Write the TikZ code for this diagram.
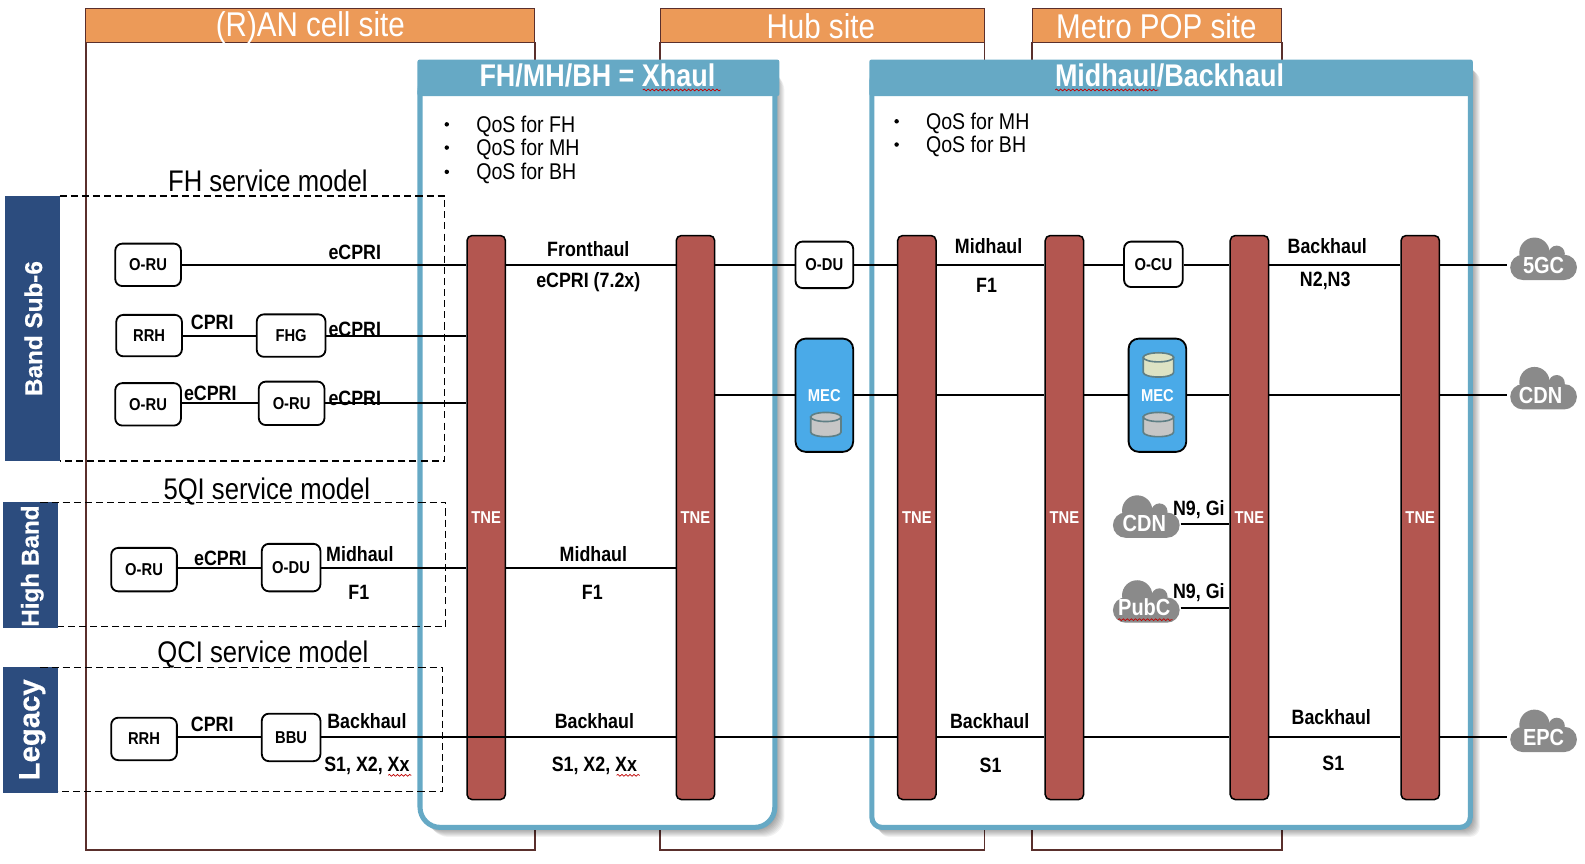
\documentclass[tikz,border=0pt]{standalone}
\usepackage{fontspec}
\setmainfont{Liberation Sans}
\newfontfamily\cnd[FakeStretch=0.86]{Liberation Sans}
\newfontfamily\hvy[FakeBold=.6]{Liberation Sans Bold}
\usetikzlibrary{decorations.pathmorphing}
\definecolor{frm}{HTML}{5A2F2C}
\definecolor{org}{HTML}{EC9A58}
\definecolor{sky}{HTML}{66A9C5}
\definecolor{navy}{HTML}{2C4C7E}
\definecolor{tne}{HTML}{B35650}
\definecolor{mecb}{HTML}{4AAAE8}
\definecolor{cld}{HTML}{8A8A8A}
\definecolor{cyledge}{HTML}{5F7F85}
\definecolor{cylg}{HTML}{C6C6C6}
\definecolor{cylo}{HTML}{DDE3C4}
\newcommand{\fs}[1]{\fontsize{#1}{#1}\selectfont}
\newcommand{\cloudat}[2]{%
  \fill[cld] (#1-9,#2-6) circle[radius=15];
  \fill[cld] (#1+13,#2-5) circle[radius=8];
  \fill[cld,rounded corners=12.5pt] (#1-33,#2-4) rectangle (#1+33,#2+21);
}
\newcommand{\cylat}[3]{%
  \draw[draw=cyledge,line width=1.6pt,fill=#3] (#1-15,#2+4.5) -- (#1-15,#2+19.5) arc[start angle=180,end angle=360,x radius=15pt,y radius=4.5pt] -- (#1+15,#2+4.5) -- cycle;
  \draw[draw=cyledge,line width=1.6pt,fill=#3] (#1,#2+4.5) ellipse[x radius=15pt,y radius=4.5pt];
}
\tikzset{
 x=1pt,y=-1pt,
 lnk/.style={line width=2pt,black},
 nbox/.style={draw=black,line width=1.8pt,fill=white,rounded corners=7pt,inner sep=0pt,font=\cnd\bfseries\fs{17}},
 tnebar/.style={draw=black,line width=1.5pt,fill=tne,rounded corners=5pt,minimum width=38pt,minimum height=558pt,inner sep=0pt,text=white,font=\cnd\bfseries\fs{17}},
 mecbox/.style={draw=black,line width=1.8pt,fill=mecb,rounded corners=10pt,minimum width=57pt,minimum height=112pt,inner sep=0pt,text=white,font=\cnd\bfseries\fs{17}},
 lbl/.style={inner sep=0pt,font=\cnd\bfseries\fs{20.5}},
 sitehd/.style={inner sep=0pt,text=white,font=\cnd\fs{34}},
 bandbox/.style={text=white,inner sep=0pt,rotate=90},
 svc/.style={inner sep=0pt,font=\cnd\fs{29.5}},
 qos/.style={inner sep=0pt,anchor=west,font=\cnd\fs{22.5}},
 dbox/.style={line width=1.3pt,dash pattern=on 7pt off 4pt},
 frame/.style={draw=frm,line width=1.6pt},
 wig/.style={draw=red!75!black,line width=.7pt,decorate,decoration={snake,amplitude=.9pt,segment length=4pt}},
 cldtxt/.style={inner sep=0pt,text=white,font=\cnd\bfseries\fs{23}},
}
\begin{document}
\begin{tikzpicture}
\useasboundingbox (0,0) rectangle (1568,854);
% site frames
\draw[frame] (85,42) -- (85,841) -- (529,841) -- (529,42);
\draw[frame] (653,42) -- (653,841) -- (974,841) -- (974,42);
\draw[frame] (1021,42) -- (1021,841) -- (1268,841) -- (1268,42);
\fill[org,draw=frm,line width=1pt] (85,8) rectangle (529,42);
\fill[org,draw=frm,line width=1pt] (653,8) rectangle (974,42);
\fill[org,draw=frm,line width=1pt] (1021,8) rectangle (1268,42);
\node[sitehd] (ran) at (307,27) {(R)AN cell site};
\node[sitehd] (hub) at (812,26) {Hub site};
\node[sitehd] (pop) at (1144,26) {Metro POP site};
% shadows
\foreach \i in {1,...,8}{
  \fill[black,opacity=.05,rounded corners=20pt] (416+\i,62+\i) rectangle (768+\i,820+\i);
  \fill[black,opacity=.05,rounded corners=10pt] (862+\i,62+\i) rectangle (1456+\i,820+\i);
}
% transport boxes
\draw[sky,line width=5pt,fill=white,rounded corners=20pt] (415.5,70) -- (415.5,818.5) -- (766.5,818.5) -- (766.5,70) -- cycle;
\fill[sky,rounded corners=2pt] (413,59) rectangle (771,95);
\draw[sky,line width=5pt,fill=white,rounded corners=10pt] (862.5,70) -- (862.5,818.5) -- (1454.5,818.5) -- (1454.5,70) -- cycle;
\fill[sky,rounded corners=2pt] (860,59) rectangle (1457,95);
\node[inner sep=0pt,text=white,font=\cnd\bfseries\fs{31}] (xh) at (591,75) {FH/MH/BH = Xhaul};
\node[inner sep=0pt,text=white,font=\cnd\bfseries\fs{31}] (mb) at (1157,75) {Midhaul/Backhaul};
\draw[wig] (636,89) -- (713,89);
\draw[wig] (1044,89) -- (1146,89);
% QoS lists
\foreach \yy/\t in {125/QoS for FH,148/QoS for MH,172/QoS for BH}{
  \node[qos] at (471,\yy) {\t};
}
\foreach \yy in {123,146,170}{\fill (442,\yy) circle[radius=2.2];}
\foreach \yy/\t in {122/QoS for MH,145/QoS for BH}{
  \node[qos] at (916,\yy) {\t};
}
\foreach \yy in {120,143}{\fill (887,\yy) circle[radius=2.2];}
% band blocks
\fill[navy] (5,194) rectangle (59,456);
\fill[navy] (3,497) rectangle (57,621);
\fill[navy] (3,660) rectangle (57,784);
\node[bandbox,font=\hvy\fs{24}] (b1) at (33,325) {Band Sub-6};
\node[bandbox,font=\hvy\fs{24}] (b2) at (32,560) {High Band};
\node[bandbox,font=\hvy\fs{29}] (b3) at (32,722) {Legacy};
% TNE
\node[tnebar] (t1) at (481,512) {TNE};
\node[tnebar] (t2) at (688,512) {TNE};
\node[tnebar] (t3) at (907,512) {TNE};
\node[tnebar] (t4) at (1053,512) {TNE};
\node[tnebar] (t5) at (1236,512) {TNE};
\node[tnebar] (t6) at (1405,512) {TNE};
% equipment
\node[nbox,minimum width=65pt,minimum height=42pt] (a1) at (146.5,262) {O-RU};
\node[nbox,minimum width=65pt,minimum height=41pt] (a2) at (147.5,332) {RRH};
\node[nbox,minimum width=68pt,minimum height=42pt] (a3) at (288,332) {FHG};
\node[nbox,minimum width=65pt,minimum height=42pt] (a4) at (146.5,400) {O-RU};
\node[nbox,minimum width=65pt,minimum height=43pt] (a5) at (288.5,399) {O-RU};
\node[nbox,minimum width=65pt,minimum height=43pt] (a6) at (142.5,563.5) {O-RU};
\node[nbox,minimum width=58pt,minimum height=47pt] (a7) at (288,561.5) {O-DU};
\node[nbox,minimum width=65pt,minimum height=42pt] (a8) at (142.5,731) {RRH};
\node[nbox,minimum width=58pt,minimum height=47pt] (a9) at (288,729.5) {BBU};
\node[nbox,minimum width=57pt,minimum height=46pt] (du) at (815.5,262) {O-DU};
\node[nbox,minimum width=58pt,minimum height=45pt] (cu) at (1141,261.5) {O-CU};
\node[mecbox,text depth=0pt] (m1) at (815.5,391) {MEC};
\node[mecbox,text depth=0pt] (m2) at (1145,391) {MEC};
\cylat{817}{408}{cylg}
\cylat{1146}{349}{cylo}
\cylat{1146}{408}{cylg}
% clouds
\cloudat{1527}{256}
\cloudat{1527}{384}
\cloudat{1527}{723}
\cloudat{1134}{511}
\cloudat{1134}{595}
\node[cldtxt] (g5) at (1527,263) {5GC};
\node[cldtxt] (cd) at (1524,391) {CDN};
\node[cldtxt] (ep) at (1527,730) {EPC};
\node[cldtxt] (cs) at (1132,518) {CDN};
\node[cldtxt] (pc) at (1132,601) {PubC};
\draw[wig] (1106,613) -- (1160,613);
% connectors
\coordinate (e1) at (1491,262);
\coordinate (e2) at (1491,391);
\coordinate (e3) at (1491,729.5);
\foreach \p/\q in {a1/t1,a3/t1,a5/t1,a7/t1}{
  \draw[lnk] (\p.east) -- (\p.east -| \q.west);
}
\draw[lnk] (a2) -- (a3);
\draw[lnk] (a4.east |- a5.east) -- (a5.west);
\draw[lnk] (a6.east |- a7.east) -- (a7.west);
\draw[lnk] (a8.east |- a9.east) -- (a9.west);
\draw[lnk] (a9.east) -- (a9.east -| t2.west);
\draw[lnk] (t1.east |- a7.east) -- (t2.west |- a7.east);
\draw[lnk] (t1.east |- du.west) -- (t2.west |- du.west);
\draw[lnk] (t2.east |- du.west) -- (du.west);
\draw[lnk] (du.east) -- (du.east -| t3.west);
\draw[lnk] (t3.east |- du.west) -- (t4.west |- du.west);
\draw[lnk] (t4.east |- du.west) -- (cu.west |- du.west);
\draw[lnk] (cu.east |- du.west) -- (t5.west |- du.west);
\draw[lnk] (t5.east |- du.west) -- (t6.west |- du.west);
\draw[lnk] (t6.east |- du.west) -- (e1);
\draw[lnk] (t2.east |- m1.west) -- (m1.west);
\draw[lnk] (m1.east) -- (m1.east -| t3.west);
\draw[lnk] (t3.east |- m1.west) -- (t4.west |- m1.west);
\draw[lnk] (t4.east |- m1.west) -- (m2.west);
\draw[lnk] (m2.east) -- (m2.east -| t5.west);
\draw[lnk] (t5.east |- m1.west) -- (t6.west |- m1.west);
\draw[lnk] (t6.east |- m1.west) -- (e2);
\draw[lnk] (t2.east |- a9.east) -- (t3.west |- a9.east);
\draw[lnk] (t3.east |- a9.east) -- (t4.west |- a9.east);
\draw[lnk] (t4.east |- a9.east) -- (t5.west |- a9.east);
\draw[lnk] (t5.east |- a9.east) -- (t6.west |- a9.east);
\draw[lnk] (t6.east |- a9.east) -- (e3);
\coordinate (ca) at (1168,518);
\coordinate (cb) at (1168,601);
\draw[lnk] (ca) -- (ca -| t5.west);
\draw[lnk] (cb) -- (cb -| t5.west);
% dashed service-model boxes
\draw[dbox] (59,194) -- (440,194) -- (440,456) -- (59,456);
\draw[dbox] (40,497) -- (441,497) -- (441,620) -- (57,620);
\draw[dbox] (40,660) -- (438,660) -- (438,783) -- (57,783);
\node[svc] (s1) at (265,179) {FH service model};
\node[svc] (s2) at (264,486) {5QI service model};
\node[svc] (s3) at (260,647) {QCI service model};
% labels
\foreach \xx/\yy/\t in {351/250/eCPRI,582/246/Fronthaul,582/279/eCPRI (7.2x),210/319/CPRI,351/326/eCPRI,208/389/eCPRI,351/394/eCPRI,978/243/Midhaul,976/282/F1,1313/243/Backhaul,1311/278/{N2,N3},218/552/eCPRI,356/548/Midhaul,355/586/F1,587/548/Midhaul,586/586/F1,210/717/CPRI,363/713/Backhaul,363/758/{S1, X2, Xx},588/713/Backhaul,588/758/{S1, X2, Xx},979/713/Backhaul,980/757/S1,1317/709/Backhaul,1319/755/S1,1186/504/{N9, Gi},1186/586/{N9, Gi}}{
  \node[lbl] at (\xx,\yy) {\t};
}
\draw[wig] (384,767) -- (407,767);
\draw[wig] (610,767) -- (633,767);
\end{tikzpicture}
\end{document}
